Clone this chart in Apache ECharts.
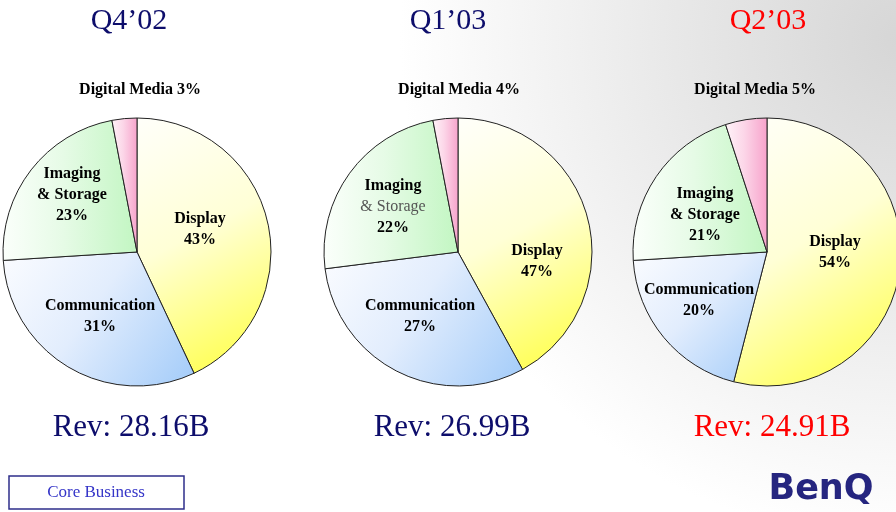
<!DOCTYPE html>
<html><head><meta charset="utf-8">
<script src="https://cdn.jsdelivr.net/npm/echarts@6/dist/echarts.min.js"></script>
<style>html,body{margin:0;padding:0;background:#fff}#c{width:896px;height:512px}</style>
</head><body><div id="c"></div>
<script>
// ---- data ----
const quarters = ['Q4\u201902', 'Q1\u201903', 'Q2\u201903'];
const revenues = ['28.16B', '26.99B', '24.91B'];
const segments = ['Display', 'Communication', 'Imaging & Storage', 'Digital Media'];
// shares as printed on the labels (%)
const q402Shares = [43, 31, 23, 3];
const q103Shares = [47, 27, 22, 4];
const q203Shares = [54, 20, 21, 5];
// slice sizes as drawn in the reference (the Q1'03 pie repeats the earlier shape)
const q402Slices = [43, 31, 23, 3];
const q103Slices = [42, 31, 24, 3];
const q203Slices = [54, 20, 21, 5];

// ---- layout / style ----
const centers = [[137, 252], [458, 252], [767, 252]];
const radius = 134;
const titleColors = ['#0d0d6b', '#0d0d6b', '#ff0000'];
const labelOffsets = [
  [[63, -23], [-37, 64], [-65, -57], [3, -162]],
  [[79, 9], [-38, 64], [-65, -45], [1, -162]],
  [[68, 0], [-68, 48], [-62, -37], [-12, -162]]
];
const grayStorage = [false, true, false];
const SERIF = '"Liberation Serif", "DejaVu Serif", serif';

function grad(x2, y2, c0, c1, c2) {
  return { type: 'linear', x: 0, y: 0, x2: x2, y2: y2,
    colorStops: [{ offset: 0, color: c0 }, { offset: 0.45, color: c1 }, { offset: 1, color: c2 }] };
}
const segFills = [
  grad(1, 1, '#fffffa', '#ffffd6', '#ffff3c'),
  grad(1, 1, '#fbfcff', '#e2edfd', '#a2cbf9'),
  grad(1, 0, '#fbfffb', '#e6fbe6', '#c2f6c2'),
  grad(1, 0, '#fff4f9', '#fcd6e8', '#f7a2cb')
];

const allShares = [q402Shares, q103Shares, q203Shares];
const allSlices = [q402Slices, q103Slices, q203Slices];

const series = allSlices.map(function (slices, si) {
  return {
    type: 'pie',
    center: centers[si],
    radius: radius,
    startAngle: 90,
    clockwise: true,
    animation: false,
    silent: true,
    data: slices.map(function (v, i) {
      return { name: segments[i], value: v, itemStyle: { color: segFills[i] } };
    }),
    itemStyle: { borderColor: '#222', borderWidth: 1 },
    label: {
      show: true,
      position: 'inside',
      formatter: function (params) {
        const i = params.dataIndex;
        const share = allShares[si][i];
        if (i === 2) {
          const mid = grayStorage[si] ? '{g|& Storage}' : '{b|& Storage}';
          return '{b|Imaging}\n' + mid + '\n{b|' + share + '%}';
        }
        if (i === 3) return '{b|' + segments[i] + ' ' + share + '%}';
        return '{b|' + segments[i] + '}\n{b|' + share + '%}';
      },
      rich: {
        b: { fontFamily: SERIF, fontWeight: 'bold', fontSize: 16, color: '#000', lineHeight: 21 },
        g: { fontFamily: SERIF, fontWeight: 'normal', fontSize: 16, color: '#555', lineHeight: 21 }
      }
    },
    labelLine: { show: false },
    labelLayout: function (params) {
      const off = labelOffsets[si][params.dataIndex];
      return { x: centers[si][0] + off[0], y: centers[si][1] + off[1], align: 'center', verticalAlign: 'middle' };
    }
  };
});

const graphics = [
  { type: 'rect', z: -10, silent: true, shape: { x: 0, y: 0, width: 896, height: 512 },
    style: { fill: { type: 'radial', x: 900, y: 40, r: 500, global: true,
      colorStops: [{ offset: 0, color: '#d6d6d6' }, { offset: 0.45, color: '#e8e8e8' }, { offset: 1, color: '#ffffff' }] } } }
];
const titleX = [129, 448, 768];
const revX = [131, 452, 772];
quarters.forEach(function (q, i) {
  graphics.push({ type: 'text', x: titleX[i], y: 21, silent: true,
    style: { text: q, fill: titleColors[i], font: 'normal 30px ' + SERIF, align: 'center', verticalAlign: 'middle' } });
  graphics.push({ type: 'text', x: revX[i], y: 428, silent: true,
    style: { text: 'Rev: ' + revenues[i], fill: titleColors[i], font: 'normal 31px ' + SERIF, align: 'center', verticalAlign: 'middle' } });
});
graphics.push({ type: 'rect', silent: true, shape: { x: 9, y: 476, width: 175, height: 33 },
  style: { fill: '#ffffff', stroke: '#2e2e8a', lineWidth: 1.5 } });
graphics.push({ type: 'text', x: 96, y: 493, silent: true,
  style: { text: 'Core Business', fill: '#3535c8', font: 'normal 17px ' + SERIF, align: 'center', verticalAlign: 'middle' } });
graphics.push({ type: 'text', x: 821, y: 490, silent: true,
  style: { text: 'BenQ', fill: '#25257f', font: 'bold 35px "DejaVu Sans", sans-serif', align: 'center', verticalAlign: 'middle' } });

const chart = echarts.init(document.getElementById('c'), null, { renderer: 'canvas' });
chart.setOption({
  backgroundColor: '#ffffff',
  animation: false,
  graphic: graphics,
  series: series
});
</script>
</body></html>
